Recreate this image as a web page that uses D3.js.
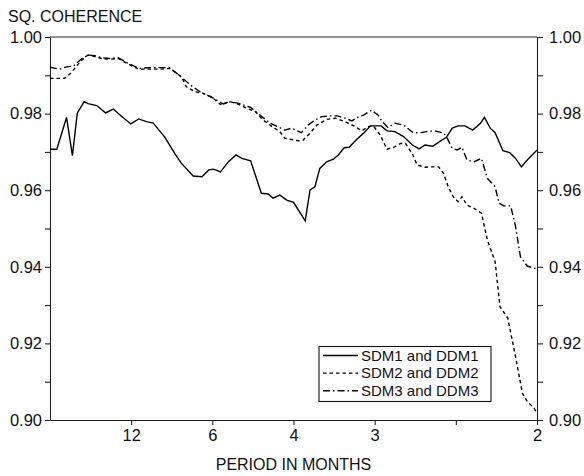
<!DOCTYPE html>
<html>
<head>
<meta charset="utf-8">
<script src="https://cdn.jsdelivr.net/npm/d3@7"></script>
<style>
  body { margin: 0; background: #fff; }
  svg text { font-family: "Liberation Sans", Arial, Helvetica, sans-serif; fill: #111; }
  .axis path, .axis line { stroke: #222; stroke-width: 1.1; }
  .curve { fill: none; stroke: #000; stroke-width: 1.4; }
</style>
</head>
<body>
<div id="chart"></div>
<script>
"use strict";

// frequency in cycles per month, squared coherence
const sdm1 = [
  [0.000,0.9707],[0.007,0.9707],[0.017,0.9790],[0.023,0.9690],[0.028,0.9801],[0.035,0.9831],
  [0.039,0.9826],[0.048,0.9821],[0.057,0.9802],[0.065,0.9812],[0.074,0.9792],[0.083,0.9773],
  [0.091,0.9786],[0.099,0.9779],[0.106,0.9775],[0.118,0.9738],[0.128,0.9696],[0.135,0.9670],
  [0.147,0.9637],[0.156,0.9635],[0.163,0.9653],[0.168,0.9655],[0.175,0.9648],[0.183,0.9674],
  [0.191,0.9692],[0.197,0.9683],[0.206,0.9677],[0.217,0.9592],[0.224,0.9590],[0.229,0.9579],
  [0.236,0.9587],[0.243,0.9574],[0.250,0.9568],[0.257,0.9540],[0.262,0.9520],[0.267,0.9601],
  [0.272,0.9609],[0.277,0.9657],[0.284,0.9674],[0.291,0.9681],[0.296,0.9692],[0.302,0.9711],
  [0.307,0.9712],[0.315,0.9733],[0.322,0.9749],[0.329,0.9768],[0.340,0.9768],[0.346,0.9755],
  [0.354,0.9753],[0.363,0.9740],[0.372,0.9718],[0.379,0.9708],[0.385,0.9718],[0.393,0.9715],
  [0.400,0.9727],[0.407,0.9738],[0.413,0.9762],[0.419,0.9768],[0.426,0.9768],[0.434,0.9757],
  [0.442,0.9775],[0.446,0.9790],[0.452,0.9762],[0.457,0.9750],[0.465,0.9703],[0.472,0.9698],
  [0.478,0.9683],[0.484,0.9661],[0.490,0.9679],[0.500,0.9705]
]

const sdm2 = [
  [0.000,0.9892],[0.015,0.9892],[0.022,0.9907],[0.031,0.9936],[0.039,0.9953],[0.046,0.9949],
  [0.053,0.9944],[0.062,0.9942],[0.070,0.9944],[0.079,0.9931],[0.091,0.9916],[0.103,0.9916],
  [0.113,0.9916],[0.123,0.9918],[0.135,0.9896],[0.140,0.9870],[0.149,0.9857],[0.157,0.9853],
  [0.166,0.9843],[0.175,0.9824],[0.185,0.9831],[0.193,0.9825],[0.202,0.9814],[0.211,0.9805],
  [0.219,0.9783],[0.228,0.9766],[0.236,0.9753],[0.241,0.9736],[0.255,0.9729],[0.260,0.9731],
  [0.267,0.9749],[0.274,0.9770],[0.284,0.9785],[0.293,0.9788],[0.303,0.9779],[0.312,0.9768],
  [0.320,0.9755],[0.327,0.9766],[0.332,0.9768],[0.339,0.9744],[0.346,0.9707],[0.353,0.9712],
  [0.360,0.9722],[0.365,0.9722],[0.372,0.9695],[0.377,0.9666],[0.385,0.9660],[0.390,0.9661],
  [0.399,0.9661],[0.404,0.9644],[0.409,0.9608],[0.414,0.9583],[0.419,0.9570],[0.423,0.9583],
  [0.428,0.9561],[0.435,0.9553],[0.443,0.9540],[0.449,0.9470],[0.457,0.9413],[0.462,0.9296],
  [0.470,0.9266],[0.478,0.9165],[0.485,0.9070],[0.490,0.9048],[0.497,0.9031],[0.500,0.9017]
]

const sdm3 = [
  [0.000,0.9921],[0.010,0.9916],[0.017,0.9922],[0.024,0.9924],[0.031,0.9940],[0.039,0.9953],
  [0.046,0.9951],[0.053,0.9946],[0.062,0.9944],[0.070,0.9946],[0.079,0.9933],[0.091,0.9918],
  [0.103,0.9920],[0.113,0.9920],[0.123,0.9920],[0.134,0.9897],[0.144,0.9875],[0.154,0.9857],
  [0.168,0.9840],[0.178,0.9825],[0.185,0.9831],[0.195,0.9826],[0.206,0.9816],[0.216,0.9795],
  [0.226,0.9775],[0.241,0.9757],[0.248,0.9762],[0.258,0.9750],[0.265,0.9770],[0.272,0.9783],
  [0.279,0.9792],[0.286,0.9794],[0.295,0.9794],[0.303,0.9788],[0.310,0.9781],[0.317,0.9792],
  [0.322,0.9796],[0.330,0.9809],[0.337,0.9796],[0.341,0.9779],[0.347,0.9764],[0.354,0.9775],
  [0.363,0.9770],[0.373,0.9750],[0.380,0.9750],[0.387,0.9753],[0.395,0.9755],[0.404,0.9749],
  [0.407,0.9740],[0.413,0.9709],[0.418,0.9705],[0.423,0.9712],[0.428,0.9679],[0.435,0.9674],
  [0.443,0.9683],[0.449,0.9631],[0.457,0.9609],[0.461,0.9566],[0.466,0.9559],[0.473,0.9559],
  [0.478,0.9505],[0.483,0.9426],[0.490,0.9402],[0.498,0.9396],[0.500,0.9390]
]

const seriesNames = ["SDM1 and DDM1", "SDM2 and DDM2", "SDM3 and DDM3"]
const seriesDash = [null, "3.5,3", "7,3,1.5,3"]

// x ticks are periods (months), placed at frequency 1/period
const periodTicks = [12, 6, 4, 3, 2.4, 2]
const periodLabels = ["12", "6", "4", "3", "", "2"]
const yTicks = [0.90, 0.91, 0.92, 0.93, 0.94, 0.95, 0.96, 0.97, 0.98, 0.99, 1.00]
const yLabels = ["0.90", "", "0.92", "", "0.94", "", "0.96", "", "0.98", "", "1.00"]

const width = 584, height = 476
const margins = {top: 37, right: 47, bottom: 56, left: 50}

const svg = d3.select("#chart").append("svg")
  .attr("width", width)
  .attr("height", height)

let x = d3.scaleLinear().domain([0, 0.5]).range([margins.left, width - margins.right])
let y = d3.scaleLinear().domain([0.90, 1.00]).range([height - margins.bottom, margins.top])

let yLab = d => yLabels[yTicks.indexOf(d)]

// frame top
svg.append("line")
  .attr("x1", x.range()[0]).attr("x2", x.range()[1])
  .attr("y1", y(1.00)).attr("y2", y(1.00))
  .attr("stroke", "#222").attr("stroke-width", 1.1)

// left axis
let gl = svg.append("g").attr("class", "axis")
  .attr("transform", `translate(${x(0)},0)`)
  .call(d3.axisLeft(y).tickValues(yTicks).tickFormat(yLab).tickSize(5).tickSizeOuter(0).tickPadding(3))
gl.selectAll("text").style("font-size", "16.5px")

// right axis
let gr = svg.append("g").attr("class", "axis")
  .attr("transform", `translate(${x(0.5)},0)`)
  .call(d3.axisRight(y).tickValues(yTicks).tickFormat(yLab).tickSize(6).tickSizeOuter(0).tickPadding(6))
gr.selectAll("text").style("font-size", "16.5px")

// bottom axis
let gb = svg.append("g").attr("class", "axis")
  .attr("transform", `translate(0,${y(0.90)})`)
  .call(d3.axisBottom(x).tickValues(periodTicks.map(p => 1 / p))
    .tickFormat((d, i) => periodLabels[i]).tickSize(5).tickSizeOuter(0).tickPadding(4))
gb.selectAll("text").style("font-size", "16.5px")
svg.selectAll(".axis .domain").attr("stroke", "#222")

// axis titles
svg.append("text")
  .attr("x", 8).attr("y", 22)
  .style("font-size", "16px")
  .text("SQ. COHERENCE")

svg.append("text")
  .attr("x", (x(0) + x(0.5)) / 2).attr("y", 470)
  .attr("text-anchor", "middle")
  .style("font-size", "16px")
  .text("PERIOD IN MONTHS")

// curves
let line = d3.line().x(d => x(d[0])).y(d => y(d[1]))
const allSeries = [sdm1, sdm2, sdm3]
svg.selectAll(".curve").data(allSeries).enter()
  .append("path")
  .attr("class", "curve")
  .attr("d", line)
  .attr("stroke-dasharray", (d, i) => seriesDash[i])

// legend
let lg = svg.append("g").attr("transform", "translate(319,346.5)")
lg.append("rect")
  .attr("width", 172).attr("height", 55)
  .attr("fill", "#fff").attr("stroke", "#111").attr("stroke-width", 1.1)
let rows = lg.selectAll(".lrow").data(seriesNames).enter()
  .append("g")
  .attr("transform", (d, i) => `translate(0,${9 + i * 17.6})`)
rows.append("line")
  .attr("x1", 4).attr("x2", 39).attr("y1", 0).attr("y2", 0)
  .attr("stroke", "#000").attr("stroke-width", 1.4)
  .attr("stroke-dasharray", (d, i) => seriesDash[i])
rows.append("text")
  .attr("x", 42).attr("y", 5)
  .style("font-size", "15px")
  .text(d => d)
</script>
</body>
</html>
